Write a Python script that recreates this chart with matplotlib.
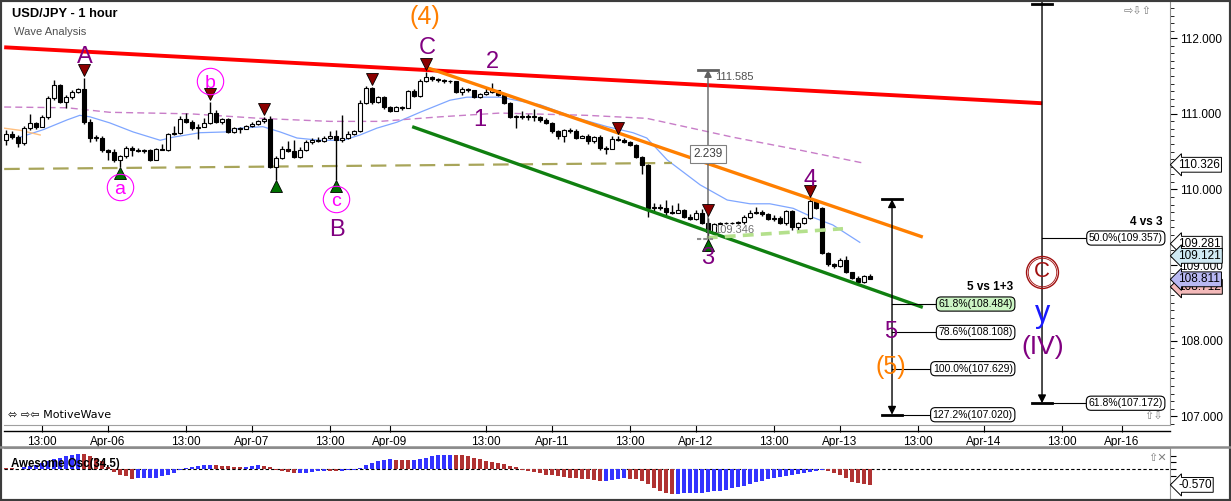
import numpy as np
import matplotlib
matplotlib.use("Agg")
import matplotlib.pyplot as plt
from matplotlib.lines import Line2D
from matplotlib.patches import Rectangle
from matplotlib.transforms import ScaledTranslation

plt.rcParams['font.family'] = ['Liberation Sans', 'DejaVu Sans']

# x axis is in hours, 0 = the first "13:00" tick (weekend hours skipped)
first_hour = -6
open0 = 110.65
close = [
    110.73, 110.69, 110.61, 110.81, 110.88, 110.83, 110.96, 111.21, 111.38, 111.16,
    111.22, 111.29, 111.33, 110.89, 110.68, 110.68, 110.52, 110.49, 110.39, 110.44,
    110.55, 110.52, 110.51, 110.52, 110.39, 110.53, 110.52, 110.73, 110.75, 110.93,
    110.89, 110.81, 110.83, 110.88, 111.01, 110.89, 110.93, 110.76, 110.81, 110.80,
    110.84, 110.87, 110.90, 110.93, 110.30, 110.42, 110.53, 110.51, 110.43, 110.52,
    110.63, 110.65, 110.64, 110.68, 110.71, 110.65, 110.68, 110.73, 110.77, 111.14,
    111.34, 111.16, 111.22, 111.09, 111.04, 111.09, 111.08, 111.30, 111.24, 111.43,
    111.49, 111.46, 111.45, 111.43, 111.44, 111.29, 111.33, 111.31, 111.22, 111.26,
    111.29, 111.31, 111.25, 111.14, 110.96, 110.97, 110.96, 110.96, 110.96, 110.92,
    110.88, 110.77, 110.71, 110.79, 110.77, 110.68, 110.71, 110.64, 110.69, 110.55,
    110.54, 110.67, 110.66, 110.63, 110.59, 110.43, 110.32, 109.75, 109.77, 109.75,
    109.70, 109.69, 109.73, 109.63, 109.61, 109.69, 109.56, 109.44, 109.54, 109.56,
    109.55, 109.56, 109.57, 109.63, 109.69, 109.70, 109.67, 109.61, 109.62, 109.56,
    109.71, 109.50, 109.56, 109.62, 109.85, 109.75, 109.16, 109.01, 108.99, 109.07,
    108.91, 108.83, 108.78, 108.85, 108.81]
high = [
    110.79, 110.77, 110.72, 110.84, 111.00, 110.89, 110.98, 111.24, 111.45, 111.39,
    111.25, 111.31, 111.34, 111.47, 110.93, 110.72, 110.71, 110.53, 110.53, 110.46,
    110.57, 110.57, 110.55, 110.53, 110.53, 110.55, 110.60, 110.75, 110.84, 110.97,
    111.01, 110.92, 110.87, 110.94, 111.16, 111.05, 110.94, 110.94, 110.83, 110.83,
    110.85, 110.89, 110.92, 110.96, 110.97, 110.44, 110.57, 110.64, 110.65, 110.56,
    110.65, 110.68, 110.69, 110.71, 110.77, 110.79, 110.98, 110.77, 110.79, 111.18,
    111.37, 111.35, 111.24, 111.24, 111.10, 111.10, 111.10, 111.31, 111.33, 111.46,
    111.55, 111.50, 111.47, 111.46, 111.45, 111.42, 111.35, 111.34, 111.31, 111.28,
    111.34, 111.41, 111.30, 111.24, 111.16, 110.98, 111.04, 111.00, 111.06, 110.97,
    110.94, 110.89, 110.79, 110.80, 110.81, 110.80, 110.72, 110.73, 110.71, 110.72,
    110.57, 110.71, 110.71, 110.68, 110.64, 110.60, 110.44, 110.34, 109.82, 109.81,
    109.86, 109.79, 109.82, 109.74, 109.67, 109.73, 109.74, 109.62, 109.56, 109.57,
    109.57, 109.57, 109.58, 109.66, 109.73, 109.77, 109.73, 109.69, 109.66, 109.65,
    109.73, 109.73, 109.57, 109.63, 109.87, 109.85, 109.77, 109.17, 109.03, 109.09,
    109.12, 108.91, 108.85, 108.87, 108.88]
low = [
    110.59, 110.67, 110.56, 110.59, 110.79, 110.80, 110.84, 110.93, 111.18, 111.14,
    111.08, 111.20, 111.28, 110.87, 110.63, 110.64, 110.49, 110.39, 110.36, 110.30,
    110.42, 110.44, 110.49, 110.48, 110.38, 110.39, 110.52, 110.51, 110.72, 110.73,
    110.88, 110.79, 110.67, 110.83, 110.87, 110.88, 110.87, 110.75, 110.75, 110.75,
    110.80, 110.83, 110.85, 110.88, 110.28, 110.12, 110.40, 110.49, 110.42, 110.42,
    110.51, 110.60, 110.63, 110.63, 110.67, 110.12, 110.63, 110.67, 110.72, 110.76,
    111.13, 111.13, 111.14, 111.06, 111.02, 111.04, 111.05, 111.08, 111.22, 111.22,
    111.42, 111.43, 111.42, 111.41, 111.41, 111.28, 111.25, 111.29, 111.21, 111.21,
    111.25, 111.28, 111.24, 111.13, 110.94, 110.81, 110.93, 110.92, 110.90, 110.89,
    110.87, 110.75, 110.67, 110.63, 110.75, 110.67, 110.68, 110.60, 110.61, 110.52,
    110.47, 110.55, 110.64, 110.61, 110.57, 110.42, 110.20, 109.63, 109.71, 109.73,
    109.66, 109.67, 109.69, 109.62, 109.60, 109.60, 109.54, 109.34, 109.42, 109.54,
    109.54, 109.54, 109.54, 109.54, 109.62, 109.67, 109.65, 109.60, 109.58, 109.54,
    109.53, 109.46, 109.44, 109.54, 109.61, 109.74, 109.15, 108.99, 108.96, 108.97,
    108.89, 108.81, 108.76, 108.76, 108.81]

# awesome oscillator (34,5), one bar per candle
ao = [
    0.03, 0.03, 0.02, 0.07, 0.12, 0.15, 0.22, 0.29, 0.36, 0.43,
    0.48, 0.54, 0.57, 0.56, 0.48, 0.41, 0.29, 0.10, -0.09, -0.19,
    -0.26, -0.34, -0.33, -0.32, -0.31, -0.30, -0.24, -0.19, -0.12, -0.04,
    0.03, 0.10, 0.13, 0.14, 0.15, 0.148, 0.13, 0.12, 0.10, 0.09,
    0.093, 0.11, 0.14, 0.12, 0.08, -0.02, -0.07, -0.10, -0.14, -0.13,
    -0.12, -0.10, -0.08, -0.07, -0.071, -0.08, -0.06, -0.03, -0.01, 0.06,
    0.14, 0.22, 0.31, 0.35, 0.36, 0.35, 0.34, 0.335, 0.35, 0.39,
    0.43, 0.47, 0.51, 0.53, 0.54, 0.53, 0.51, 0.47, 0.43, 0.37,
    0.31, 0.26, 0.24, 0.21, 0.13, 0.07, -0.02, -0.07, -0.11, -0.15,
    -0.19, -0.22, -0.26, -0.29, -0.31, -0.33, -0.35, -0.37, -0.40, -0.42,
    -0.41, -0.40, -0.35, -0.33, -0.34, -0.36, -0.44, -0.55, -0.68, -0.79,
    -0.87, -0.90, -0.89, -0.88, -0.87, -0.86, -0.85, -0.84, -0.81, -0.78,
    -0.75, -0.70, -0.66, -0.61, -0.55, -0.48, -0.43, -0.36, -0.32, -0.28,
    -0.24, -0.21, -0.18, -0.14, -0.11, -0.06, -0.03, -0.05, -0.12, -0.21,
    -0.33, -0.45, -0.51, -0.55, -0.57]

# moving averages
ma_fast_h = [-3.7, 0.2, 4.2, 6.3, 8.0, 11.3, 15.2, 19.7, 21.8, 26.3, 30.5, 33.0, 36.8,
             39.7, 42.5, 46.3, 50.2, 53.0, 55.8, 59.2, 63.0, 68.0, 70.8, 76.3, 83.0,
             88.5, 94.2, 98.5, 100.8, 104.2, 109.7, 114.2, 118.0, 121.3, 125.2, 128.5,
             131.8, 136.3]
ma_fast = [110.69, 110.79, 110.92, 110.98, 110.96, 110.88, 110.76, 110.65, 110.69, 110.75,
           110.76, 110.81, 110.83, 110.76, 110.68, 110.65, 110.65, 110.72, 110.81, 110.89,
           111.02, 111.18, 111.22, 111.22, 111.12, 110.96, 110.83, 110.75, 110.68, 110.39,
           110.06, 109.86, 109.81, 109.81, 109.75, 109.63, 109.53, 109.30]
ma_slow_h = [-6.3, 4.2, 11.3, 24.7, 36.3, 48.0, 56.3, 66.3, 76.3, 90.8, 100.8, 115.2, 126.3, 136.8]
ma_slow = [111.09, 111.08, 111.02, 111.00, 110.94, 110.90, 110.90, 110.96, 111.01, 110.98,
           110.94, 110.69, 110.52, 110.35]
ma_orange_h = [-6.3, -3.5, -0.3]
ma_orange = [110.81, 110.78, 110.72]

# trend lines: (h0, h1), (p0, p1)
red_line = ([-6.3, 166.7], [111.88, 111.14])
orange_line = ([64.2, 146.8], [111.61, 109.37])
green_line = ([61.7, 146.8], [110.83, 108.44])
olive_line = ([-6.3, 105.0], [110.27, 110.35])
lgreen_line = ([110.8, 133.5], [109.36, 109.48])

# swing markers (bar index)
tops = [13, 34, 43, 61, 70, 102, 117, 134]
bottoms = [19, 45, 55, 117]

# fibonacci projections
w4_top = 109.87
fib5_values = [108.484, 108.108, 107.629, 107.020]
fib5_labels = ['61.8%(108.484)', '78.6%(108.108)', '100.0%(107.629)', '127.2%(107.020)']
w3_top, w3_low = 111.585, 109.346
iv_values = [109.357, 107.172]
iv_labels = ['50.0%(109.357)', '61.8%(107.172)']

tick_hours = [0, 11, 24, 35, 48, 58, 74, 85, 98, 109, 122, 133, 146, 157, 170, 180]
tick_labels = ['13:00', 'Apr-06', '13:00', 'Apr-07', '13:00', 'Apr-09', '13:00', 'Apr-11',
               '13:00', 'Apr-12', '13:00', 'Apr-13', '13:00', 'Apr-14', '13:00', 'Apr-16']

price_tags = [(110.326, 'white'), (109.281, 'white'), (109.121, '#cfe9f3'),
              (108.712, '#f3b9b9'), (108.811, '#b8b8f2')]

PURPLE = '#800080'
ORANGE = '#ff7f00'
MAGENTA = '#ff00ff'

W, H = 1231, 501
fig = plt.figure(figsize=(W / 100, H / 100), dpi=100)
fig.patch.set_facecolor('white')
ax = fig.add_axes([4 / W, 1 - 425 / H, 1166 / W, 423 / H])
ax.set_xlim(-6.33, 188)
ax.set_ylim(106.884, 112.479)

# candles
n = len(close)
xs = np.arange(n) + first_hour
c = np.array(close)
o = np.concatenate([[open0], c[:-1]])
hi = np.maximum(np.array(high), np.maximum(o, c))
lo = np.minimum(np.array(low), np.minimum(o, c))
ax.vlines(xs, lo, hi, color='black', lw=1, zorder=3)
up = c >= o
body = np.maximum(np.abs(c - o), 0.008)
ax.bar(xs[up], body[up], bottom=np.minimum(o, c)[up], width=0.78,
       color='white', edgecolor='black', lw=0.8, zorder=4)
ax.bar(xs[~up], body[~up], bottom=np.minimum(o, c)[~up], width=0.78,
       color='black', edgecolor='black', lw=0.8, zorder=4)

# moving averages
ax.plot(ma_fast_h, ma_fast, color='#7fa6ff', lw=0.9, zorder=2)
ax.plot(ma_slow_h, ma_slow, color='#c87dc8', lw=1, ls=(0, (5, 3)), zorder=2)
ax.plot(ma_orange_h, ma_orange, color='#ffc080', lw=1, zorder=2)

# trend lines
ax.plot(*olive_line, color='#a8a55a', lw=1.6, ls=(0, (7, 4)), zorder=2)
ax.plot(*red_line, color='#ff0000', lw=2.8, zorder=5, solid_capstyle='butt')
ax.plot(*orange_line, color=ORANGE, lw=2.4, zorder=5, solid_capstyle='butt')
ax.plot(*green_line, color='#108010', lw=2.4, zorder=5, solid_capstyle='butt')
ax.plot(*lgreen_line, color='#b4e08c', lw=2.6, ls=(0, (3, 2)), zorder=5)

# swing markers, a few pixels off the candle extremes
up_shift = ax.transData + ScaledTranslation(0, 8 / 100, fig.dpi_scale_trans)
dn_shift = ax.transData + ScaledTranslation(0, -6 / 100, fig.dpi_scale_trans)
for i in tops:
    ax.plot(xs[i], hi[i], marker='v', ms=8, mfc='#8b0000', mec='black', mew=0.6, zorder=7,
            transform=up_shift)
for i in bottoms:
    ax.plot(xs[i], lo[i], marker='^', ms=8, mfc='#007000', mec='black', mew=0.6, zorder=7,
            transform=dn_shift)


def wave(txt, x, y, color, size):
    ax.text(x, y, txt, color=color, fontsize=size, ha='center', va='center', zorder=8)


wave('A', 7.2, 111.75, PURPLE, 17)
wave('(4)', 63.8, 112.28, ORANGE, 18)
wave('C', 64.2, 111.87, PURPLE, 17)
wave('2', 75.0, 111.69, PURPLE, 17)
wave('1', 73.0, 110.92, PURPLE, 17)
wave('B', 49.2, 109.46, PURPLE, 17)
wave('3', 111.0, 109.09, PURPLE, 17)
wave('4', 128.0, 110.12, PURPLE, 17)
wave('5', 141.5, 108.11, PURPLE, 17)
wave('(5)', 141.5, 107.65, ORANGE, 18)
wave('y', 166.7, 108.35, '#1a1aff', 22)
wave('(IV)', 166.7, 107.92, PURPLE, 19)
for txt, x, y in [('a', 13.0, 110.03), ('b', 28.0, 111.43), ('c', 49.0, 109.87)]:
    ax.plot(x, y, marker='o', ms=19, mfc='none', mec=MAGENTA, mew=0.8, zorder=8)
    ax.text(x, y, txt, color=MAGENTA, fontsize=14, ha='center', va='center_baseline', zorder=8)
ax.plot(166.7, 108.91, marker='o', ms=23, mfc='none', mec='#a01010', mew=1.0, zorder=8)
ax.plot(166.7, 108.91, marker='o', ms=20.5, mfc='none', mec='#a01010', mew=0.6, zorder=8)
ax.text(166.7, 108.91, 'C', color='#a01010', fontsize=16, ha='center', va='center', zorder=8)

# wave 3 measurement
ax.annotate('', xy=(111, w3_top), xytext=(111, w3_low),
            arrowprops=dict(arrowstyle='-|>', color='#606060', lw=1, mutation_scale=11,
                            shrinkA=0, shrinkB=0), zorder=6)
ax.plot([109.4, 112.6], [w3_top, w3_top], color='#606060', lw=2, zorder=6)
ax.plot([109.2, 111.9], [w3_low, w3_low], color='#909090', lw=1.5, ls=(0, (2, 1)), zorder=6)
ax.text(112.2, w3_top - 0.1, f'{w3_top:.3f}', color='#505050', fontsize=8, va='center', zorder=8)
ax.text(111, 110.47, f'{w3_top - w3_low:.3f}', color='#404040', fontsize=8.5, ha='center',
        va='center', zorder=8,
        bbox=dict(boxstyle='square,pad=0.25', fc='white', ec='#808080', lw=0.8))
ax.text(112.0, 109.46, f'{w3_low:.3f}', color='#707070', fontsize=8, va='center', zorder=8)

# wave 5 projection
x5 = 141.67
ax.annotate('', xy=(x5, w4_top), xytext=(x5, fib5_values[-1]),
            arrowprops=dict(arrowstyle='<|-|>', color='black', lw=1, mutation_scale=12,
                            shrinkA=0, shrinkB=0), zorder=6)
for yv in [w4_top, fib5_values[-1]]:
    ax.plot([x5 - 1.6, x5 + 1.6], [yv, yv], color='black', lw=2, zorder=6)
for yv, lab in zip(fib5_values, fib5_labels):
    ax.plot([x5, 158], [yv, yv], color='black', lw=0.8, zorder=6)
    fc = '#ccf5c4' if lab.startswith('61.8') else 'white'
    ax.text(161.8, yv, lab, fontsize=7.5, ha='right', va='center', zorder=9,
            bbox=dict(boxstyle='round,pad=0.2,rounding_size=0.45', fc=fc, ec='black', lw=0.8))
ax.text(161.8, 108.71, '5 vs 1+3', fontsize=8.5, fontweight='bold', ha='right', va='center', zorder=9)

# wave (IV) projection
xiv = 166.67
ax.annotate('', xy=(xiv, iv_values[-1]), xytext=(xiv, 112.479),
            arrowprops=dict(arrowstyle='-|>', color='black', lw=1, mutation_scale=12,
                            shrinkA=0, shrinkB=0), zorder=6, annotation_clip=False)
for yv in [112.45, iv_values[-1]]:
    ax.plot([xiv - 1.6, xiv + 1.6], [yv, yv], color='black', lw=2, zorder=6)
for yv, lab in zip(iv_values, iv_labels):
    ax.plot([xiv, 184], [yv, yv], color='black', lw=0.8, zorder=6)
    ax.text(186.8, yv, lab, fontsize=7.5, ha='right', va='center', zorder=9,
            bbox=dict(boxstyle='round,pad=0.2,rounding_size=0.45', fc='white', ec='black', lw=0.8))
ax.text(186.8, 109.57, '4 vs 3', fontsize=8.5, fontweight='bold', ha='right', va='center', zorder=9)

# axes styling
for s in ['left', 'top']:
    ax.spines[s].set_visible(False)
ax.spines['bottom'].set_color('#a0a0a0')
ax.spines['right'].set_color('#909090')
ax.yaxis.tick_right()
ax.set_yticks([107, 108, 109, 110, 111, 112])
ax.set_yticklabels([f'{v:.3f}' for v in [107, 108, 109, 110, 111, 112]])
ax.set_yticks(np.arange(106.9, 112.5, 0.1), minor=True)
ax.tick_params(axis='y', which='major', length=5, pad=2, labelsize=8.5)
ax.tick_params(axis='y', which='minor', length=3)
ax.set_xticks(tick_hours)
ax.set_xticklabels(tick_labels)
ax.tick_params(axis='x', length=5, pad=3, labelsize=8.5)

ytr = ax.get_yaxis_transform()
for val, col in price_tags:
    ax.text(1.007, val, f'{val:.3f}', transform=ytr, fontsize=8.5, ha='left', va='center',
            clip_on=False, zorder=10,
            bbox=dict(boxstyle='larrow,pad=0.12', fc=col, ec='black', lw=0.7))

# texts
fig.text(12 / W, 1 - 14 / H, 'USD/JPY - 1 hour', fontsize=9.3, fontweight='bold', va='center')
fig.text(14 / W, 1 - 32 / H, 'Wave Analysis', fontsize=8, color='#505050', va='center')
fig.text(8 / W, 1 - 415 / H, '\u2b04 \u21e8\u21e6 MotiveWave', fontsize=8, va='center',
         family=['DejaVu Sans'])
fig.text(1124 / W, 1 - 11 / H, '\u21e8\u21e9\u21e7', fontsize=8, color='#808080', va='center',
         family=['DejaVu Sans'])
fig.text(1144 / W, 1 - 416 / H, '\u21e7\u21e9', fontsize=8, color='#808080', va='center',
         family=['DejaVu Sans'])

fig.add_artist(Line2D([4 / W, 1170 / W], [1 - 430.5 / H] * 2, color='black', lw=1))
fig.add_artist(Line2D([0, 1], [1 - 447 / H] * 2, color='#8a8a8a', lw=1.8))

# awesome oscillator panel
ax2 = fig.add_axes([4 / W, 1 - 498 / H, 1166 / W, 50 / H])
ax2.set_xlim(-6.33, 188)
ax2.set_ylim(-1.05, 0.78)
aov = np.array(ao)
rising = np.concatenate([[False], aov[1:] > aov[:-1]])
cols = np.where(rising, '#3333ff', '#b03232')
ax2.bar(xs, aov, width=0.72, color=cols, lw=0, zorder=3)
ax2.axhline(0, color='black', lw=0.8, ls=(0, (3, 2)), zorder=2)
for s in ['left', 'bottom']:
    ax2.spines[s].set_visible(False)
ax2.spines['top'].set_color('#a0a0a0')
ax2.spines['right'].set_color('#909090')
ax2.set_xticks([])
ax2.yaxis.tick_right()
ax2.set_yticks([-0.5, -0.25, 0, 0.25, 0.5])
ax2.set_yticklabels([])
ax2.tick_params(axis='y', length=4)
ax2.text(0.006, 0.68, 'Awesome Osc(34,5)', transform=ax2.transAxes, fontsize=8.3,
         fontweight='bold', va='center', zorder=5)
ax2.text(1.007, ao[-1], f'{ao[-1]:.3f}', transform=ax2.get_yaxis_transform(), fontsize=8.5,
         ha='left', va='center', clip_on=False,
         bbox=dict(boxstyle='larrow,pad=0.12', fc='white', ec='black', lw=0.7))
fig.text(1148 / W, 1 - 458 / H, '\u21e7\u2715', fontsize=8, color='#808080', va='center',
         family=['DejaVu Sans'])

fig.add_artist(Rectangle((0, 0), 1, 1, transform=fig.transFigure, fill=False,
                         ec='#3c3c3c', lw=3))

fig.savefig('out.png', dpi=100)
